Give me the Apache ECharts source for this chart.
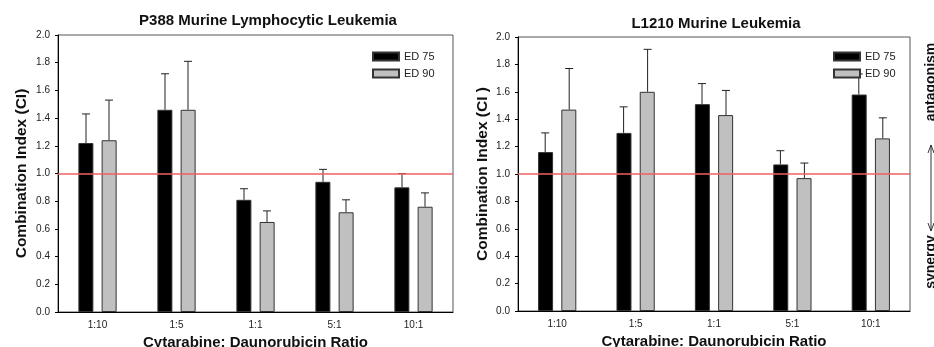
<!DOCTYPE html>
<html>
<head>
<meta charset="utf-8">
<script src="https://cdn.jsdelivr.net/npm/echarts@6/dist/echarts.min.js"></script>
<style>
  html, body { margin: 0; padding: 0; background: #fff; }
  #chart { width: 934px; height: 347px; }
</style>
</head>
<body>
<div id="chart"></div>
<script>
  // data
  var ratios = ['1:10', '1:5', '1:1', '5:1', '10:1'];
  var yTicks = [0, 0.2, 0.4, 0.6, 0.8, 1.0, 1.2, 1.4, 1.6, 1.8, 2.0];

  var p388Ed75 = [1.22, 1.46, 0.81, 0.94, 0.90];
  var p388Ed75Top = [1.43, 1.72, 0.89, 1.03, 1.00];
  var p388Ed90 = [1.24, 1.46, 0.65, 0.72, 0.76];
  var p388Ed90Top = [1.53, 1.81, 0.73, 0.81, 0.86];

  var l1210Ed75 = [1.16, 1.30, 1.51, 1.07, 1.58];
  var l1210Ed75Top = [1.30, 1.49, 1.66, 1.17, 1.73];
  var l1210Ed90 = [1.47, 1.60, 1.43, 0.97, 1.26];
  var l1210Ed90Top = [1.77, 1.91, 1.61, 1.08, 1.41];

  var font = 'Liberation Sans, Arial, sans-serif';
  var chart = echarts.init(document.getElementById('chart'));

  function errorSeries(name, idx, vals, tops, shift) {
    var data = vals.map(function (v, i) { return [i, v, tops[i]]; });
    return {
      name: name,
      type: 'custom',
      xAxisIndex: idx,
      yAxisIndex: idx,
      z: 1,
      silent: true,
      data: data,
      renderItem: function (params, api) {
        var low = api.coord([api.value(0), api.value(1)]);
        var high = api.coord([api.value(0), api.value(2)]);
        var x = low[0] + shift;
        var st = { stroke: '#222', lineWidth: 1 };
        return {
          type: 'group',
          children: [
            { type: 'line', shape: { x1: x, y1: low[1], x2: x, y2: high[1] }, style: st },
            { type: 'line', shape: { x1: x - 4, y1: high[1], x2: x + 4, y2: high[1] }, style: st }
          ]
        };
      }
    };
  }

  function barSeries(name, idx, vals, color, withLine) {
    var s = {
      name: name,
      type: 'bar',
      xAxisIndex: idx,
      yAxisIndex: idx,
      barWidth: 15,
      barGap: '55%',
      z: 2,
      itemStyle: { color: color, borderColor: '#333', borderWidth: 1 },
      data: vals
    };
    if (withLine) {
      s.markLine = {
        silent: true,
        symbol: 'none',
        label: { show: false },
        lineStyle: { color: '#ee6060', width: 1.5, type: 'solid' },
        data: [{ yAxis: 1.0 }]
      };
    }
    return s;
  }

  function xAxis(idx) {
    return {
      type: 'category',
      gridIndex: idx,
      data: ratios,
      name: 'Cytarabine: Daunorubicin Ratio',
      nameLocation: 'middle',
      nameGap: 22,
      nameTextStyle: { fontFamily: font, fontWeight: 'bold', fontSize: 15, color: '#111' },
      axisLine: { lineStyle: { color: '#000', width: 1 } },
      axisTick: { alignWithLabel: true, length: 4, lineStyle: { color: '#000' } },
      axisLabel: { fontFamily: font, fontSize: 10, color: '#222', margin: 8 }
    };
  }

  function yAxis(idx, name, gap) {
    return {
      type: 'value',
      gridIndex: idx,
      min: 0,
      max: 2,
      interval: 0.2,
      name: name,
      nameLocation: 'middle',
      nameGap: gap,
      nameTextStyle: { fontFamily: font, fontWeight: 'bold', fontSize: 15.5, color: '#111' },
      axisLine: { show: true, lineStyle: { color: '#000', width: 1 } },
      axisTick: { show: true, length: 3, lineStyle: { color: '#000' } },
      splitLine: { show: false },
      axisLabel: {
        fontFamily: font, fontSize: 10, color: '#222', margin: 8,
        formatter: function (v) { return v.toFixed(1); }
      }
    };
  }

  function legend(idx, left) {
    return {
      data: idx === 0 ? ['ED 75', 'ED 90'] : ['ED 75 ', 'ED 90 '],
      orient: 'vertical',
      left: left,
      top: 46,
      itemWidth: 26,
      itemHeight: 8,
      itemGap: 6,
      icon: 'rect',
      textStyle: { fontFamily: font, fontSize: 11, color: '#222' }
    };
  }

  chart.setOption({
    animation: false,
    title: [
      { text: 'P388 Murine Lymphocytic Leukemia', left: 263, top: 8, textAlign: 'center',
        textStyle: { fontFamily: font, fontWeight: 'bold', fontSize: 15, color: '#111' } },
      { text: 'L1210 Murine Leukemia', left: 711, top: 11, textAlign: 'center',
        textStyle: { fontFamily: font, fontWeight: 'bold', fontSize: 15, color: '#111' } }
    ],
    legend: [legend(0, 367), legend(1, 828)],
    grid: [
      { left: 58, top: 35, width: 395, height: 277, show: true, borderColor: '#555', borderWidth: 1,
        containLabel: false, outerBoundsMode: 'none' },
      { left: 518, top: 37, width: 392, height: 274, show: true, borderColor: '#555', borderWidth: 1,
        containLabel: false, outerBoundsMode: 'none' }
    ],
    xAxis: [xAxis(0), xAxis(1)],
    yAxis: [yAxis(0, 'Combination Index (CI)', 28), yAxis(1, 'Combination Index (CI )', 27)],
    series: [
      barSeries('ED 75', 0, p388Ed75, '#000', true),
      barSeries('ED 90', 0, p388Ed90, '#c0c0c0', false),
      errorSeries('ED 75', 0, p388Ed75, p388Ed75Top, -11.5),
      errorSeries('ED 90', 0, p388Ed90, p388Ed90Top, 11.5),
      barSeries('ED 75 ', 1, l1210Ed75, '#000', true),
      barSeries('ED 90 ', 1, l1210Ed90, '#c0c0c0', false),
      errorSeries('ED 75 ', 1, l1210Ed75, l1210Ed75Top, -12),
      errorSeries('ED 90 ', 1, l1210Ed90, l1210Ed90Top, 12)
    ],
    graphic: [
      { type: 'text', x: 931, y: 82, rotation: Math.PI / 2, z: 10,
        style: { text: 'antagonism', fontFamily: font, fontWeight: 'bold', fontSize: 14, fill: '#111',
          textAlign: 'center', textVerticalAlign: 'middle' } },
      { type: 'text', x: 931, y: 262, rotation: Math.PI / 2, z: 10,
        style: { text: 'synergy', fontFamily: font, fontWeight: 'bold', fontSize: 14, fill: '#111',
          textAlign: 'center', textVerticalAlign: 'middle' } },
      { type: 'polyline', z: 10, shape: { points: [[931, 145], [931, 231]] },
        style: { stroke: '#333', lineWidth: 1, fill: null } },
      { type: 'polyline', z: 10, shape: { points: [[928, 153], [931, 145], [934, 153]] },
        style: { stroke: '#333', lineWidth: 1, fill: null } },
      { type: 'polyline', z: 10, shape: { points: [[928, 223], [931, 231], [934, 223]] },
        style: { stroke: '#333', lineWidth: 1, fill: null } }
    ]
  });
</script>
</body>
</html>
